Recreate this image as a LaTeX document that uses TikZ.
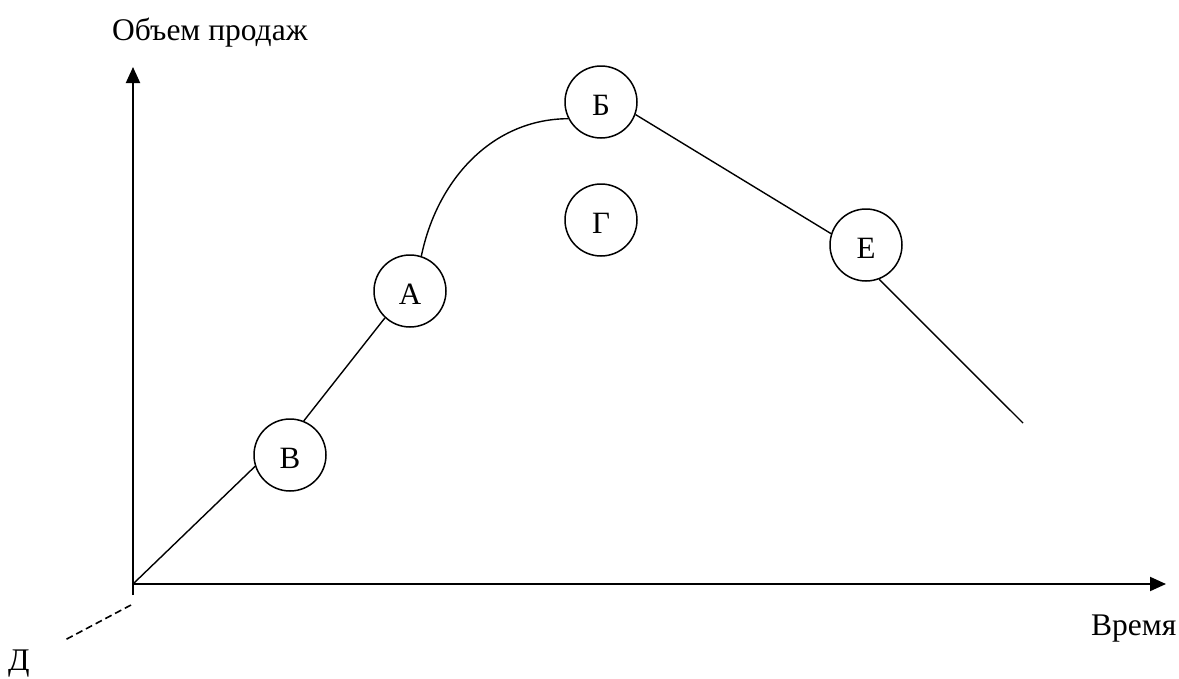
\documentclass[tikz,border=0pt]{standalone}
\usepackage{fontspec}
\setmainfont{Liberation Serif}
\usetikzlibrary{arrows.meta}
\begin{document}
\begin{tikzpicture}[x=1pt,y=-1pt,
  axis/.style={line width=2pt,-{Triangle[length=16pt,width=14pt]}},
  curveline/.style={line width=1.4pt},
  stage/.style={circle,draw,line width=1.5pt,minimum size=72pt,inner sep=0pt,text height=27pt,text depth=0pt,font=\fontsize{31}{36}\selectfont},
  lbl/.style={inner sep=0pt,font=\fontsize{31.5}{36}\selectfont}]
\useasboundingbox (0,0) rectangle (1179,678);
% axes
\coordinate (O) at (133,584);
\coordinate (Ybot) at (133,595);
\coordinate (Ytop) at (133,67);
\coordinate (Xend) at (1166,584);
\draw[axis] (Ybot) -- (Ytop);
\draw[axis] (O) -- (Xend);
% labels
\node[lbl,anchor=base west] (ylab) at (112,40) {Объем продаж};
\node[lbl,anchor=base west] (xlab) at (1091,635) {Время};
\node[lbl,anchor=base west] (D) at (8,670) {Д};
% stages
\node[stage] (V) at (290,455) {В};
\node[stage] (A) at (410,291) {А};
\node[stage] (B) at (601,102) {Б};
\node[stage] (G) at (601,220) {Г};
\node[stage] (E) at (866,245) {Е};
\coordinate (End) at (1023,423);
\coordinate (Ds) at (131,605);
\coordinate (De) at (63,641);
% connectors
\draw[curveline] (O) -- (V.198);
\draw[curveline] (V.68) -- (A.227);
\draw[curveline] (A.72) .. controls (437,180) and (492,119) .. (B.207);
\draw[curveline] (B.340) -- (E.162);
\draw[curveline] (E.291) -- (End);
\draw[curveline,line width=1.6pt,dash pattern=on 7pt off 4pt] (Ds) -- (De);
\end{tikzpicture}
\end{document}
